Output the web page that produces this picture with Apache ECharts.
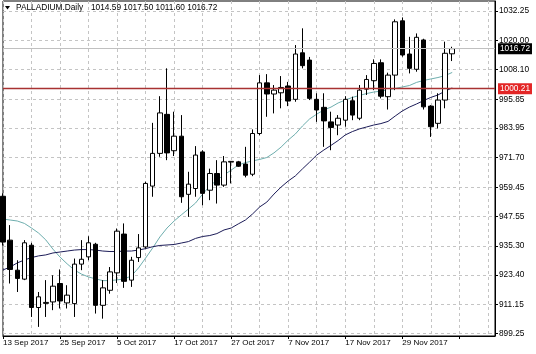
<!DOCTYPE html>
<html><head><meta charset="utf-8">
<script src="https://cdn.jsdelivr.net/npm/echarts@6/dist/echarts.min.js"></script>
<style>html,body{margin:0;padding:0;background:#fff}#c{width:536px;height:354px}</style>
</head><body><div id="c"></div>
<script>
const dates = ['13 Sep 2017','14 Sep 2017','15 Sep 2017','18 Sep 2017','19 Sep 2017','20 Sep 2017','21 Sep 2017','22 Sep 2017',
'25 Sep 2017','26 Sep 2017','27 Sep 2017','28 Sep 2017','29 Sep 2017','2 Oct 2017','3 Oct 2017','4 Oct 2017',
'5 Oct 2017','6 Oct 2017','9 Oct 2017','10 Oct 2017','11 Oct 2017','12 Oct 2017','13 Oct 2017','16 Oct 2017',
'17 Oct 2017','18 Oct 2017','19 Oct 2017','20 Oct 2017','23 Oct 2017','24 Oct 2017','25 Oct 2017','26 Oct 2017',
'27 Oct 2017','30 Oct 2017','31 Oct 2017','1 Nov 2017','2 Nov 2017','3 Nov 2017','5 Nov 2017','6 Nov 2017',
'7 Nov 2017','8 Nov 2017','9 Nov 2017','10 Nov 2017','13 Nov 2017','14 Nov 2017','15 Nov 2017','16 Nov 2017',
'17 Nov 2017','20 Nov 2017','21 Nov 2017','22 Nov 2017','23 Nov 2017','24 Nov 2017','27 Nov 2017','28 Nov 2017',
'29 Nov 2017','30 Nov 2017','1 Dec 2017','4 Dec 2017','5 Dec 2017','6 Dec 2017','7 Dec 2017','8 Dec 2017'];
const emptySlots = ['','','','','',''];

const opens  = [955.8,937.7,925.3,921.6,935.6,909.9,911.6,912.2,919.8,911.8,911.5,927.8,930.8,936.0,910.8,917.0,
924.2,940.2,921.2,930.5,934.9,960.0,973.5,989.6,974.6,980.6,956.6,959.0,974.1,958.3,965.2,960.4,
969.9,970.0,969.1,964.9,981.7,1002.6,998.0,998.5,1001.3,995.8,1015.0,1012.0,995.8,992.5,986.5,985.2,
987.2,995.2,988.0,1000.0,1003.5,1010.9,996.9,1005.8,1028.2,1014.5,1008.2,1020.3,993.0,985.9,995.5,1014.59];
const highs  = [957.0,943.9,929.4,937.7,936.6,916.3,921.2,923.2,925.6,919.1,930.1,937.7,939.3,936.6,921.2,926.6,
942.5,944.6,930.8,940.2,961.8,986.1,997.1,1008.6,990.7,989.3,965.9,976.5,974.8,967.2,970.7,972.4,
970.3,970.4,976.2,983.4,1005.8,1006.2,1001.7,1005.4,1003.0,1018.2,1025.1,1013.3,998.3,998.3,990.7,989.3,
997.1,996.9,1001.7,1005.8,1012.3,1012.3,1006.8,1028.8,1029.6,1021.6,1023.0,1020.8,993.4,998.3,1019.6,1017.50];
const lows   = [935.5,919.8,916.3,921.2,906.0,901.9,906.0,908.8,909.5,909.5,906.0,925.3,929.4,907.4,905.3,915.6,
920.0,918.0,918.4,928.7,934.2,955.6,972.1,970.7,972.4,953.1,947.3,955.6,952.1,954.2,952.8,959.7,
961.1,967.9,963.6,964.1,981.0,988.6,990.0,992.1,993.0,994.8,1008.6,995.5,986.5,976.2,974.8,981.0,
984.5,987.2,987.2,997.6,999.6,996.2,991.6,999.6,1013.4,1006.5,1007.2,991.6,980.3,983.8,992.1,1011.60];
const closes = [936.9,925.6,921.9,936.6,909.9,914.3,912.0,918.7,912.6,915.0,927.8,929.8,936.6,910.8,918.0,924.6,
941.4,920.7,929.4,934.5,961.1,973.5,990.2,973.7,980.6,955.6,960.8,972.8,957.0,965.2,960.4,970.0,
970.2,968.2,964.5,981.7,1002.6,998.0,999.6,1000.7,995.1,1014.5,1009.7,996.2,991.4,986.9,984.2,988.0,
995.8,989.3,999.6,1004.0,1010.6,997.1,1005.8,1027.8,1014.1,1008.6,1021.4,992.7,984.5,995.5,1014.8,1016.72];

const maFast = [946.4,946.0,945.6,944.6,942.7,940.6,937.8,934.0,930.7,927.9,925.4,923.7,922.5,921.7,921.0,921.0,
921.3,921.7,922.9,926.2,930.3,934.5,939.0,942.7,945.6,948.1,950.5,953.0,956.7,960.0,962.5,964.6,
966.6,968.7,969.7,970.4,971.0,971.8,973.7,976.1,979.0,981.5,984.8,987.7,989.7,991.4,992.6,994.3,
995.5,996.6,997.4,998.2,998.8,999.2,999.7,1000.3,1000.9,1001.5,1002.8,1003.6,1004.2,1004.8,1005.6,1006.9];
const maSlow = [925.4,926.6,928.3,929.5,930.5,931.2,931.6,932.4,932.8,933.2,933.6,933.8,933.8,933.6,933.2,933.0,
933.0,933.2,933.2,933.6,934.2,935.0,935.5,935.7,935.9,936.5,937.1,938.4,939.2,939.6,940.4,941.9,
942.7,944.4,946.0,948.5,951.4,953.4,956.7,959.6,962.1,964.2,967.1,969.9,972.8,974.9,976.8,978.8,
981.1,982.5,983.6,984.4,985.2,985.8,986.7,988.9,991.0,992.6,993.9,995.3,996.6,997.6,999.2,1000.5];

const priceTicks = [899.25,911.15,923.40,935.30,947.55,959.45,971.70,983.95,995.85,1008.10,1020.00,1032.25];
const priceMin = 898.14, priceMax = 1036.38;
const currentPrice = 1016.72;
const levelPrice = 1000.21;
const symbolTitle = 'PALLADIUM.Daily';
const quoteText = '1014.59 1017.50 1011.60 1016.72';

const font = 'Liberation Sans';
const cats = dates.concat(emptySlots);
const candles = opens.map((o, i) => [o, closes[i], lows[i], highs[i]]);

const chart = echarts.init(document.getElementById('c'), null, {renderer: 'canvas'});
chart.setOption({
  animation: false,
  backgroundColor: '#ffffff',
  grid: {left: 3, right: 41, top: 1, bottom: 18, show: true, borderColor: '#000', borderWidth: 1, backgroundColor: 'transparent'},
  xAxis: {
    type: 'category', data: cats, boundaryGap: false,
    axisLine: {show: true, lineStyle: {color: '#000', width: 1}},
    axisTick: {show: true, interval: 7, length: 3, lineStyle: {color: '#000'}},
    axisLabel: {interval: 7, align: 'left', margin: 3, fontSize: 8, fontFamily: font, color: '#000'},
    splitLine: {show: true, interval: 3, lineStyle: {color: '#c4c4c4', width: 1, type: [3, 3]}}
  },
  yAxis: {
    type: 'value', position: 'right', min: priceMin, max: priceMax,
    axisLine: {show: true, lineStyle: {color: '#000', width: 1}},
    axisTick: {show: true, length: 3, customValues: priceTicks, lineStyle: {color: '#000'}},
    axisLabel: {customValues: priceTicks, formatter: v => Number(v).toFixed(2), margin: 4, fontSize: 8.3, fontFamily: font, color: '#000'},
    splitLine: {show: true, lineStyle: {color: '#c4c4c4', width: 1, type: [3, 3]}}
  },
  graphic: [
    {type: 'polygon', z: 10, shape: {points: [[5, 6], [10, 6], [7.5, 9.5]]}, style: {fill: '#000'}},
    {type: 'text', z: 10, left: 16, top: 4, style: {text: symbolTitle, font: '8.3px "Liberation Sans"', fill: '#000'}},
    {type: 'text', z: 10, left: 91, top: 4, style: {text: quoteText, font: '8.3px "Liberation Sans"', fill: '#000'}}
  ],
  series: [
    {
      type: 'line', data: maFast, symbol: 'none', z: 2, silent: true,
      lineStyle: {color: '#6eaeae', width: 1}
    },
    {
      type: 'line', data: maSlow, symbol: 'none', z: 2, silent: true,
      lineStyle: {color: '#1c1c58', width: 1},
      markLine: {
        silent: true, symbol: 'none', animation: false,
        data: [
          {yAxis: currentPrice, lineStyle: {color: '#c0c0c0', width: 1, type: 'solid'},
           label: {show: true, position: 'end', distance: 3, formatter: () => currentPrice.toFixed(2), backgroundColor: '#000', color: '#fff', padding: [2, 2, 1, 2], fontSize: 8.3, fontFamily: font}},
          {yAxis: levelPrice, lineStyle: {color: '#a83232', width: 1.3, type: 'solid'},
           label: {show: true, position: 'end', distance: 3, formatter: () => levelPrice.toFixed(2), backgroundColor: '#e32626', color: '#fff', padding: [2, 2, 1, 2], fontSize: 8.3, fontFamily: font}}
        ]
      }
    },
    {
      type: 'candlestick', data: candles, barWidth: 5, z: 4, clip: false,
      itemStyle: {color: '#ffffff', color0: '#000000', borderColor: '#000000', borderColor0: '#000000', borderWidth: 1}
    }
  ]
});
</script></body></html>
